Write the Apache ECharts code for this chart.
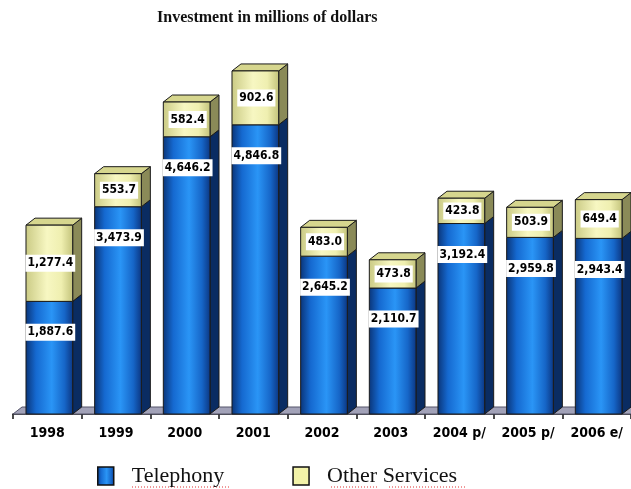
<!DOCTYPE html>
<html>
<head>
<meta charset="utf-8">
<script src="https://cdn.jsdelivr.net/npm/echarts@6/dist/echarts.min.js"></script>
<style>
  html, body { margin: 0; padding: 0; background: #ffffff; }
  #chart { width: 631px; height: 489px; }
</style>
</head>
<body>
<div id="chart"></div>
<script>
// Investment per year, millions of dollars
const years = ['1998', '1999', '2000', '2001', '2002', '2003', '2004 p/', '2005 p/', '2006 e/'];
const telephony = [1887.6, 3473.9, 4646.2, 4846.8, 2645.2, 2110.7, 3192.4, 2959.8, 2943.4];
const otherServices = [1277.4, 553.7, 582.4, 902.6, 483.0, 473.8, 423.8, 503.9, 649.4];

const DEPTH_X = 9;   // 3D side depth (px)
const DEPTH_Y = 7;   // 3D top depth (px)
const BAR_RATIO = 0.68;

function fmt(v) {
  return v.toLocaleString('en-US', { minimumFractionDigits: 1, maximumFractionDigits: 1 });
}

const styles = {
  tel: {
    front: new echarts.graphic.LinearGradient(0, 0, 1, 0, [
      { offset: 0, color: '#0a3477' },
      { offset: 0.22, color: '#1569d0' },
      { offset: 0.55, color: '#2a95f6' },
      { offset: 0.82, color: '#1666c8' },
      { offset: 1, color: '#0b3580' }
    ]),
    side: '#0a2c62',
    top: '#1b5fb0'
  },
  oth: {
    front: new echarts.graphic.LinearGradient(0, 0, 1, 0, [
      { offset: 0, color: '#caca84' },
      { offset: 0.45, color: '#f7f7c2' },
      { offset: 0.75, color: '#efefb0' },
      { offset: 1, color: '#c2c27a' }
    ]),
    side: '#8a8a58',
    top: '#d6d68e'
  }
};

// Stacked 3D box: [categoryIndex, from, to, value]
function makeRender(kind) {
  const st = styles[kind];
  return function (params, api) {
    const idx = api.value(0);
    const lo = api.value(1);
    const hi = api.value(2);
    const val = api.value(3);
    const pLo = api.coord([idx, lo]);
    const pHi = api.coord([idx, hi]);
    const w = api.size([1, 0])[0] * BAR_RATIO;
    const left = pLo[0] - w / 2 + 2;
    const right = left + w;
    const yb = pLo[1];
    const yt = pHi[1];
    const children = [];
    children.push({
      type: 'polygon',
      shape: { points: [[right, yb], [right + DEPTH_X, yb - DEPTH_Y], [right + DEPTH_X, yt - DEPTH_Y], [right, yt]] },
      style: { fill: st.side, stroke: '#1a1a1a', lineWidth: 1 }
    });
    if (kind === 'oth') {
      children.push({
        type: 'polygon',
        shape: { points: [[left, yt], [left + DEPTH_X, yt - DEPTH_Y], [right + DEPTH_X, yt - DEPTH_Y], [right, yt]] },
        style: { fill: st.top, stroke: '#1a1a1a', lineWidth: 1 }
      });
    }
    children.push({
      type: 'rect',
      shape: { x: left, y: yt, width: w, height: yb - yt },
      style: { fill: st.front, stroke: '#1a1a1a', lineWidth: 1 }
    });
    const labelY = kind === 'oth' ? (yt + yb) / 2 : yt + 31;
    children.push({
      type: 'text',
      x: (left + right) / 2 + 1,
      y: labelY,
      style: {
        text: fmt(val),
        fill: '#000',
        font: 'bold 12px "DejaVu Sans Condensed", "DejaVu Sans", sans-serif',
        align: 'center',
        verticalAlign: 'middle',
        backgroundColor: '#ffffff',
        padding: [3, 2, 2, 2]
      }
    });
    return { type: 'group', children: children };
  };
}

const telData = years.map((y, i) => [i, 0, telephony[i], telephony[i]]);
const othData = years.map((y, i) => [i, telephony[i], telephony[i] + otherServices[i], otherServices[i]]);

const chart = echarts.init(document.getElementById('chart'), null, { renderer: 'canvas' });

chart.setOption({
  backgroundColor: '#ffffff',
  animation: false,
  title: {
    text: 'Investment in millions of dollars',
    left: 157,
    top: 10,
    padding: 0,
    textStyle: {
      fontFamily: '"Liberation Serif", "DejaVu Serif", serif',
      fontSize: 16,
      fontWeight: 'bold',
      color: '#111'
    }
  },
  legend: {
    left: 97,
    top: 465,
    padding: 0,
    itemWidth: 16,
    itemHeight: 18,
    itemGap: 68,
    selectedMode: false,
    textStyle: {
      fontFamily: '"Liberation Serif", "DejaVu Serif", serif',
      fontSize: 22,
      color: '#111',
      padding: [0, 0, 0, 13]
    },
    data: [
      { name: 'Telephony', icon: 'rect', itemStyle: { color: styles.tel.front, borderColor: '#111', borderWidth: 1.5 } },
      { name: 'Other Services', icon: 'rect', itemStyle: { color: '#f2f2a8', borderColor: '#111', borderWidth: 1.5 } }
    ]
  },
  grid: { left: 13, right: 0, top: 56, bottom: 75, containLabel: false },
  xAxis: {
    type: 'category',
    data: years,
    boundaryGap: true,
    axisLine: { show: true, lineStyle: { color: '#111', width: 1.5 } },
    axisTick: { show: true, interval: 0, length: 5, lineStyle: { color: '#111', width: 1.5 } },
    axisLabel: {
      interval: 0,
      hideOverlap: false,
      margin: 12,
      color: '#000',
      fontFamily: '"DejaVu Sans Condensed", "DejaVu Sans", sans-serif',
      fontWeight: 'bold',
      fontSize: 14
    }
  },
  yAxis: {
    type: 'value',
    min: 0,
    max: 6000,
    show: false,
    splitLine: { show: false }
  },
  series: [
    {
      // grey floor plane under the bars
      type: 'custom',
      name: 'floor',
      silent: true,
      z: 1,
      data: [[0]],
      renderItem: function (params, api) {
        const cs = params.coordSys;
        const yb = cs.y + cs.height;
        return {
          type: 'polygon',
          shape: { points: [[cs.x, yb], [cs.x + DEPTH_X, yb - DEPTH_Y], [cs.x + cs.width + DEPTH_X, yb - DEPTH_Y], [cs.x + cs.width, yb]] },
          style: { fill: '#a2a2b8', stroke: '#55556a', lineWidth: 1 }
        };
      }
    },
    {
      type: 'custom',
      name: 'Telephony',
      z: 2,
      itemStyle: { color: '#1a7fe0' },
      encode: { x: 0, y: [1, 2] },
      data: telData,
      renderItem: makeRender('tel')
    },
    {
      type: 'custom',
      name: 'Other Services',
      z: 3,
      itemStyle: { color: '#f2f2a8' },
      encode: { x: 0, y: [1, 2] },
      data: othData,
      renderItem: makeRender('oth')
    }
  ],
  graphic: [
    // spell-check style dotted underlines beneath the legend words
    { type: 'line', shape: { x1: 132, y1: 487, x2: 229, y2: 487 }, style: { stroke: '#e03030', lineWidth: 1, lineDash: [1, 2] } },
    { type: 'line', shape: { x1: 331, y1: 487, x2: 379, y2: 487 }, style: { stroke: '#e03030', lineWidth: 1, lineDash: [1, 2] } },
    { type: 'line', shape: { x1: 389, y1: 487, x2: 467, y2: 487 }, style: { stroke: '#e03030', lineWidth: 1, lineDash: [1, 2] } }
  ]
});
</script>
</body>
</html>
